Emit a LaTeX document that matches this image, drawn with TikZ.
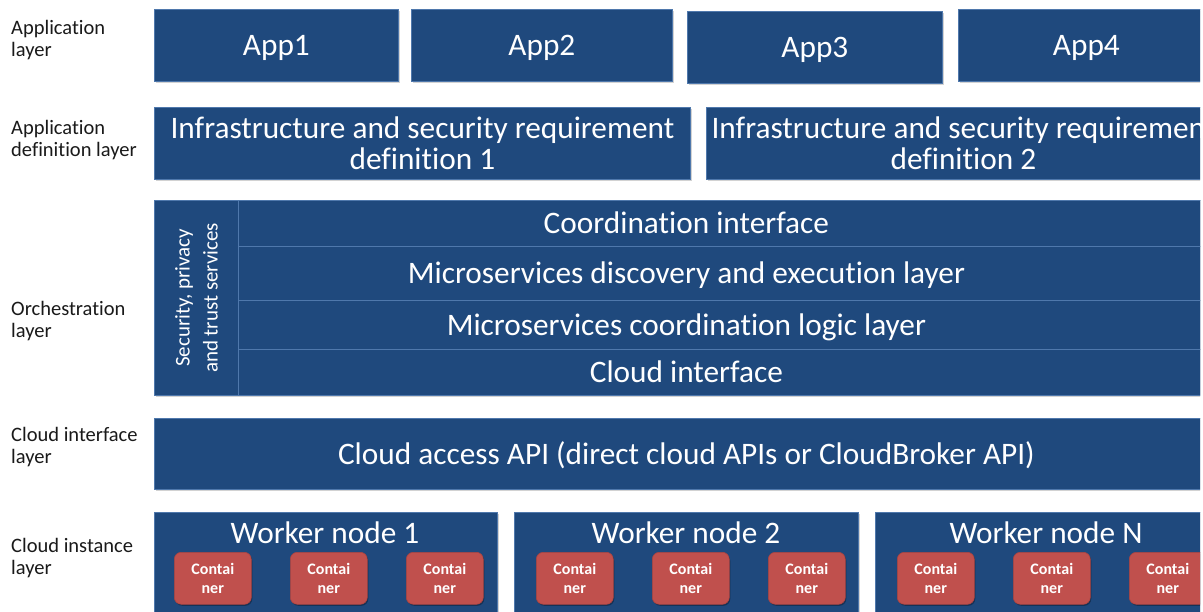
\documentclass[tikz,border=0pt]{standalone}
\usepackage{fontspec}
\setmainfont[Ligatures=NoCommon]{Carlito}
\usetikzlibrary{shadows}
\definecolor{boxblue}{HTML}{1F497D}
\definecolor{edgeblue}{HTML}{4F78AC}
\definecolor{contred}{HTML}{C0504D}
\definecolor{contedge}{HTML}{A94441}
\definecolor{labgray}{HTML}{1A1A1A}
\begin{document}
\begin{tikzpicture}[x=1pt,y=-1pt,
  shad/.style={drop shadow={shadow xshift=1.5pt,shadow yshift=-2pt,opacity=0.35,fill=gray}},
  blk/.style={draw=edgeblue, line width=0.8pt, fill=boxblue, text=white,
    font=\fontsize{31.3}{31}\selectfont, inner sep=0pt, align=center, anchor=north west},
  one/.style={text height=26pt, text depth=5pt},
  rowbox/.style={draw=edgeblue, line width=0.8pt, fill=boxblue, text=white,
    font=\fontsize{31.3}{31}\selectfont, inner sep=0pt, anchor=north west,
    minimum width=1064, text height=26pt, text depth=5pt},
  cont/.style={draw=contedge, line width=0.6pt, fill=contred, text=white,
    rounded corners=7pt, font=\bfseries\fontsize{16}{19}\selectfont, align=center,
    inner sep=0pt, minimum width=77, minimum height=52, anchor=north west,
    drop shadow={shadow xshift=1pt,shadow yshift=-1.5pt,opacity=0.3,fill=black}},
  lab/.style={anchor=west, align=left, text=labgray, inner sep=0pt,
    font=\fontsize{20.5}{22}\selectfont},
  title/.style={text=white, font=\fontsize{31.3}{31}\selectfont, inner sep=0pt,
    text height=26pt, text depth=5pt}
]
\useasboundingbox[fill=white] (0,0) rectangle (1203,612);
\begin{scope}
\clip (0,0) rectangle (1200,612);

% left labels
\node[lab] (lapp) at (11,40) {Application\\layer};
\node[lab] (ldef) at (11,140) {Application\\definition layer};
\node[lab] (lorch) at (11,321) {Orchestration\\layer};
\node[lab] (lci) at (11,447) {Cloud interface\\layer};
\node[lab] (linst) at (11,558) {Cloud instance\\layer};

% application layer
\node[blk, one, shad, minimum width=244, minimum height=72] (app1) at (154,9) {App1};
\node[blk, one, shad, minimum width=261, minimum height=72] (app2) at (411,9) {App2};
\node[blk, one, shad, minimum width=255, minimum height=72] (app3) at (687,11) {App3};
\node[blk, one, shad, minimum width=256, minimum height=72] (app4) at (958,9) {App4};

% application definition layer
\node[blk, shad, minimum width=536, minimum height=72] (def1) at (154,107)
  {Infrastructure and security requirement\\definition 1};
\node[blk, shad, minimum width=514, minimum height=72] (def2) at (706,107)
  {Infrastructure and security requirement\\definition 2};

% orchestration layer
\node[blk, shad, minimum width=1064, minimum height=195] (orch) at (154,200) {};
\node[rowbox, minimum height=46] (r1) at (154,200) {Coordination interface};
\node[rowbox, minimum height=54] (r2) at (154,246) {Microservices discovery and execution layer};
\node[rowbox, minimum height=49] (r3) at (154,300) {Microservices coordination logic layer};
\node[rowbox, minimum height=46] (r4) at (154,349) {Cloud interface};
\node[blk, minimum width=84, minimum height=195] (sec) at (154,200) {};
\node[rotate=90, align=center, text=white, inner sep=0pt,
  font=\fontsize{21}{28}\selectfont] (sectext) at (sec.center)
  {Security, privacy\\and trust services};

% cloud interface layer
\node[blk, one, shad, minimum width=1064, minimum height=71] (api) at (154,418)
  {Cloud access API (direct cloud APIs or CloudBroker API)};

% cloud instance layer
\node[blk, shad, minimum width=343, minimum height=110] (wn1) at (154,512) {};
\node[blk, shad, minimum width=344, minimum height=110] (wn2) at (514,512) {};
\node[blk, shad, minimum width=342, minimum height=110] (wnn) at (875,512) {};
\node[title] (t1) at (325,533) {Worker node 1};
\node[title] (t2) at (686,533) {Worker node 2};
\node[title] (tn) at (1046,533) {Worker node N};

\node[cont] (c11) at (174,552) {Contai\\ner};
\node[cont] (c12) at (290,552) {Contai\\ner};
\node[cont] (c13) at (406,552) {Contai\\ner};
\node[cont] (c21) at (536,552) {Contai\\ner};
\node[cont] (c22) at (652,552) {Contai\\ner};
\node[cont] (c23) at (768,552) {Contai\\ner};
\node[cont] (cn1) at (897,552) {Contai\\ner};
\node[cont] (cn2) at (1013,552) {Contai\\ner};
\node[cont] (cn3) at (1129,552) {Contai\\ner};
\end{scope}
\end{tikzpicture}
\end{document}
